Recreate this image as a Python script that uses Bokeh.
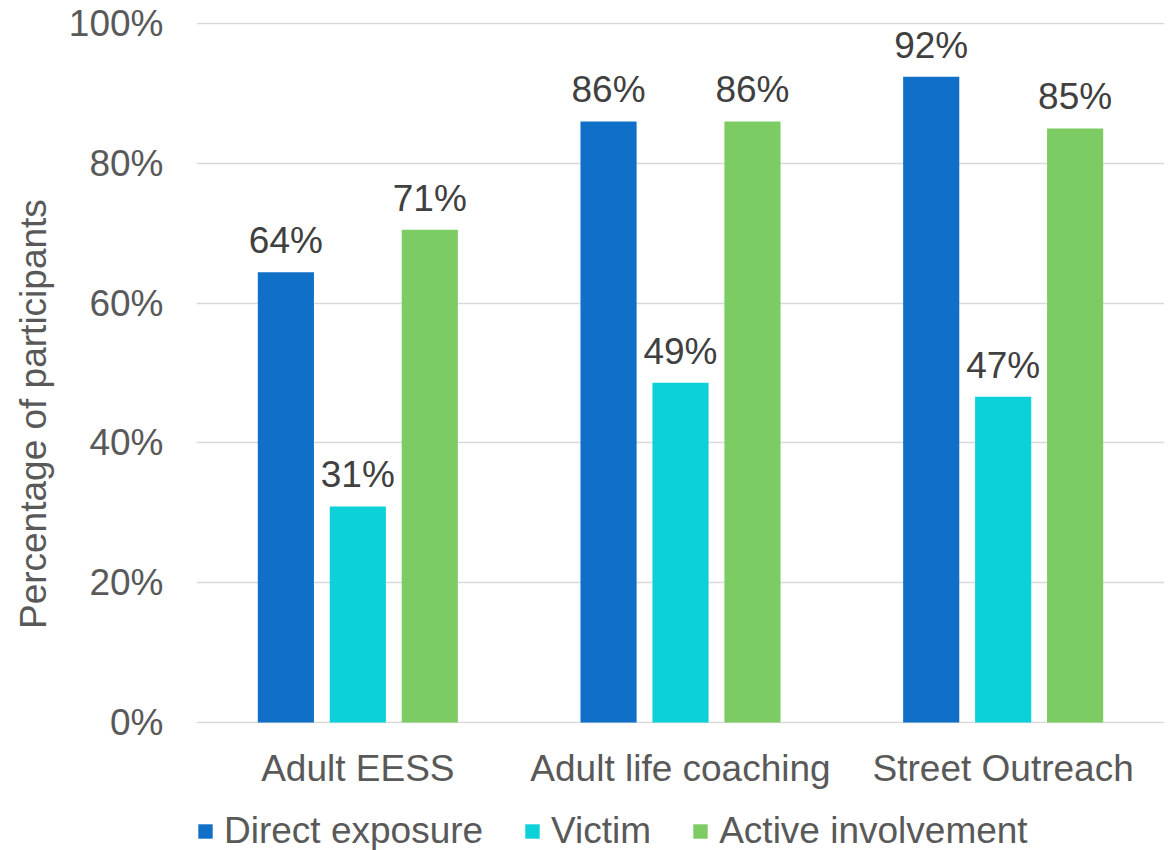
from bokeh.plotting import figure
from bokeh.layouts import column
from bokeh.models import (ColumnDataSource, FactorRange, Range1d, NumeralTickFormatter,
                          FixedTicker, Legend, LegendItem, LabelSet)
from bokeh.transform import dodge
from bokeh.core.properties import value
from bokeh.embed import file_html
from bokeh.resources import INLINE

categories = ["Adult EESS", "Adult life coaching", "Street Outreach"]
series_names = ["Direct exposure", "Victim", "Active involvement"]
direct = [0.644, 0.860, 0.924]
victim = [0.309, 0.486, 0.466]
active = [0.705, 0.860, 0.850]
direct_labels = ["64%", "86%", "92%"]
victim_labels = ["31%", "49%", "47%"]
active_labels = ["71%", "86%", "85%"]
y_ticks = [0, 0.2, 0.4, 0.6, 0.8, 1.0]
y_title = "Percentage of participants"

colors = ["#1070C8", "#0DD1D9", "#7DCB63"]
FONT = "Liberation Sans"
TXT = "#595959"

src = ColumnDataSource(dict(cat=categories, direct=direct, victim=victim, active=active,
                            dl=direct_labels, vl=victim_labels, al=active_labels))

p = figure(width=1169, height=800, x_range=FactorRange(*categories, range_padding=0),
           y_range=Range1d(-0.0015, 1.0015), output_backend="svg", toolbar_location=None,
           min_border_left=196, min_border_right=5, min_border_top=22, min_border_bottom=77)
p.outline_line_color = None
p.background_fill_color = "white"
p.border_fill_color = "white"

offs = [-0.223, 0.0, 0.223]
cols = ["direct", "victim", "active"]
labs = ["dl", "vl", "al"]
for off, col, lab, c in zip(offs, cols, labs, colors):
    p.vbar(x=dodge("cat", off, range=p.x_range), top=col, width=0.174, source=src,
           fill_color=c, line_color=None)
    ls = LabelSet(x=dodge("cat", off, range=p.x_range), y=col, text=lab, source=src,
                  text_align="center", text_baseline="alphabetic", y_offset=19,
                  text_font=value(FONT), text_font_size="37px", text_color="#404040")
    p.add_layout(ls)

p.yaxis.ticker = FixedTicker(ticks=y_ticks)
p.yaxis.formatter = NumeralTickFormatter(format="0%")
p.yaxis.axis_line_color = None
p.yaxis.major_tick_line_color = None
p.yaxis.minor_tick_line_color = None
p.yaxis.major_label_standoff = 27
p.yaxis.major_label_text_font = FONT
p.yaxis.major_label_text_font_size = "37px"
p.yaxis.major_label_text_color = TXT
# trailing no-break spaces shift the centred title down, as in the reference
p.yaxis.axis_label = y_title + "\u00a0" * 8
p.yaxis.axis_label_text_font = FONT
p.yaxis.axis_label_text_font_size = "37px"
p.yaxis.axis_label_text_font_style = "normal"
p.yaxis.axis_label_text_color = TXT
p.yaxis.axis_label_standoff = 12

p.xaxis.axis_line_color = None
p.xaxis.major_tick_line_color = None
p.xaxis.minor_tick_line_color = None
p.xaxis.major_label_standoff = 18
p.xaxis.major_label_text_font = FONT
p.xaxis.major_label_text_font_size = "37px"
p.xaxis.major_label_text_color = TXT

p.xgrid.grid_line_color = None
p.ygrid.ticker = FixedTicker(ticks=y_ticks)
p.ygrid.grid_line_color = "#D9D9D9"
p.ygrid.grid_line_width = 1.5

# legend strip below the chart
q = figure(width=1169, height=50, x_range=Range1d(0, 1), y_range=Range1d(0, 1),
           x_axis_type=None, y_axis_type=None, output_backend="svg", toolbar_location=None,
           min_border=0)
q.outline_line_color = None
q.grid.visible = False
q.border_fill_color = "white"
q.background_fill_alpha = 0
dummies = [q.vbar(x=[0.5], top=[0], bottom=[0], width=0.0, fill_color=c, line_color=None)
           for c in colors]
legend = Legend(items=[LegendItem(label=n, renderers=[r]) for n, r in zip(series_names, dummies)],
                orientation="horizontal", location=(0, -2),
                glyph_width=18, glyph_height=18, label_standoff=10, spacing=40,
                padding=0, margin=0, border_line_color=None, background_fill_alpha=0,
                label_text_font=FONT, label_text_font_size="37px", label_text_color=TXT,
                label_height=40)
q.add_layout(legend, "center")

layout = column(p, q, spacing=0)
open("out.html", "w").write(file_html(layout, INLINE))
